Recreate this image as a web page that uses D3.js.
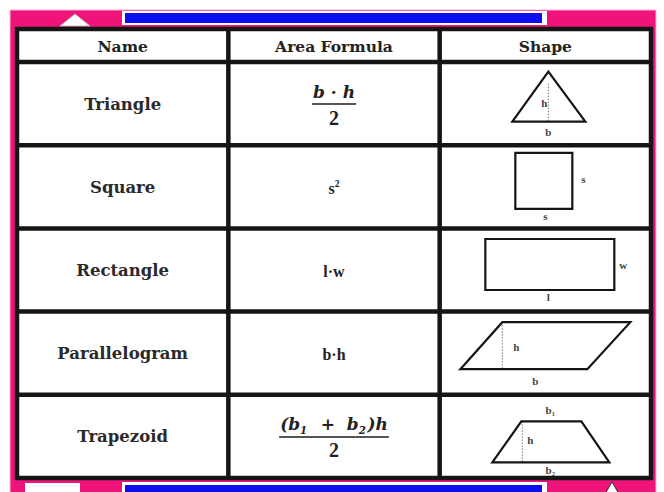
<!DOCTYPE html>
<html>
<head>
<meta charset="utf-8">
<script src="https://cdn.jsdelivr.net/npm/d3@7"></script>
<style>
  body { margin: 0; background: #fff; }
  svg { display: block; }
  text { white-space: pre; }
</style>
</head>
<body>
<div id="main"></div>
<script>
const width = 664;
const height = 492;

const headers = ["Name", "Area Formula", "Shape"];
const shapeNames = ["Triangle", "Square", "Rectangle", "Parallelogram", "Trapezoid"];
// numerator / denominator of each area formula ("_1" = subscript, "^2" = superscript)
const formulaTop = ["b · h", "s^2", "l·w", "b·h", "(b_1  +  b_2)h"];
const formulaBottom = ["2", "", "", "", "2"];
const formulaItalic = [true, false, false, false, true];

const pink = "#ef1479";
const blue = "#0b0ff0";
const ink = "#151515";

const svg = d3.select("#main").append("svg")
  .attr("width", width)
  .attr("height", height);

// frame
svg.append("rect").attr("x", 10).attr("y", 10).attr("width", 646).attr("height", 490)
  .attr("fill", pink).attr("stroke", "#f7b6d3").attr("stroke-width", 1);
svg.append("rect").attr("x", 122).attr("y", 11).attr("width", 425).attr("height", 14).attr("fill", "#fff");
svg.append("rect").attr("x", 125).attr("y", 13).attr("width", 417).attr("height", 10).attr("fill", blue);
svg.append("path").attr("d", "M60,26 L75,14 L90,26 Z").attr("fill", "#fff").attr("stroke", "#bbb");
svg.append("rect").attr("x", 122).attr("y", 482).attr("width", 425).attr("height", 12).attr("fill", "#fff");
svg.append("rect").attr("x", 125).attr("y", 485).attr("width", 417).attr("height", 10).attr("fill", blue);
svg.append("rect").attr("x", 25).attr("y", 483).attr("width", 55).attr("height", 12).attr("fill", "#fff");
svg.append("path").attr("d", "M605,494 L612,482 L619,494").attr("fill", "#fff").attr("stroke", "#333");

// table scales
const col = d3.scaleBand().domain(headers).range([17, 651]);
const row = d3.scaleBand().domain(shapeNames).range([62, 478]);
const headTop = 29;

const table = svg.append("g");
table.append("rect").attr("x", 17).attr("y", headTop).attr("width", 634).attr("height", 478 - headTop)
  .attr("fill", "#fff");

// grid lines
const hLines = [headTop, ...shapeNames.map(d => row(d)), 478];
table.selectAll(".hl").data(hLines).enter().append("line")
  .attr("x1", 15).attr("x2", 653)
  .attr("y1", d => d).attr("y2", d => d)
  .attr("stroke", ink).attr("stroke-width", 4.5);
const vLines = [...headers.map(d => col(d)), 651];
table.selectAll(".vl").data(vLines).enter().append("line")
  .attr("y1", headTop - 2).attr("y2", 480)
  .attr("x1", d => d).attr("x2", d => d)
  .attr("stroke", ink).attr("stroke-width", 4.5);

// header
table.selectAll(".head").data(headers).enter().append("text")
  .attr("x", d => col(d) + col.bandwidth() / 2)
  .attr("y", 51.5)
  .attr("text-anchor", "middle")
  .attr("font-family", "DejaVu Serif")
  .attr("font-weight", "bold")
  .attr("font-size", 15.5)
  .attr("fill", "#222")
  .text(d => d);

// names
table.selectAll(".name").data(shapeNames).enter().append("text")
  .attr("x", col("Name") + col.bandwidth() / 2)
  .attr("y", d => row(d) + row.bandwidth() / 2 + 6)
  .attr("text-anchor", "middle")
  .attr("font-family", "DejaVu Serif")
  .attr("font-weight", "bold")
  .attr("font-size", 16.5)
  .attr("fill", "#2a2a2a")
  .text(d => d);

// formulas
function richText(sel, str) {
  const parts = str.split(/([_^]\d)/).filter(s => s.length);
  parts.forEach(p => {
    if (p[0] === "_") {
      sel.append("tspan").attr("font-size", "0.6em").attr("dy", 4).text(p[1]);
      sel.append("tspan").attr("dy", -4).text("\u200a");
    } else if (p[0] === "^") {
      sel.append("tspan").attr("font-size", "0.6em").attr("dy", -7).text(p[1]);
      sel.append("tspan").attr("dy", 7).text("");
    } else {
      sel.append("tspan").text(p);
    }
  });
}

const fx = col("Area Formula") + col.bandwidth() / 2;
shapeNames.forEach((name, i) => {
  const cy = row(name) + row.bandwidth() / 2;
  const g = table.append("g").attr("fill", "#222")
    .attr("font-family", "Liberation Serif")
    .attr("font-weight", "bold")
    .attr("font-size", 19);
  if (formulaBottom[i]) {
    const top = g.append("text").attr("x", fx).attr("y", cy - 6)
      .attr("text-anchor", "middle")
      .attr("font-family", "DejaVu Serif")
      .attr("font-size", 17)
      .attr("font-style", formulaItalic[i] ? "italic" : "normal");
    richText(top, formulaTop[i]);
    const w = top.node().getComputedTextLength();
    g.append("line").attr("x1", fx - w / 2 - 1).attr("x2", fx + w / 2 + 1)
      .attr("y1", cy + 0.5).attr("y2", cy + 0.5)
      .attr("stroke", "#555").attr("stroke-width", 2);
    g.append("text").attr("x", fx).attr("y", cy + 21)
      .attr("text-anchor", "middle").attr("font-size", 20).text(formulaBottom[i]);
  } else {
    const t = g.append("text").attr("x", fx).attr("y", cy + 7)
      .attr("text-anchor", "middle").attr("font-size", 16);
    richText(t, formulaTop[i]);
  }
});

// shapes, drawn relative to the cell centre
const sx = col("Shape") + col.bandwidth() / 2;
const line = d3.line();
function label(g, x, y, t) {
  g.append("text").attr("x", x).attr("y", y).attr("text-anchor", "middle")
    .attr("font-family", "Liberation Serif").attr("font-size", 11).attr("font-weight", "bold")
    .attr("fill", "#444").text(t);
}
function poly(g, pts) {
  g.append("path").attr("d", line(pts) + "Z")
    .attr("fill", "none").attr("stroke", ink).attr("stroke-width", 2.2).attr("stroke-linejoin", "miter");
}
function dotted(g, x, y1, y2) {
  g.append("line").attr("x1", x).attr("x2", x).attr("y1", y1).attr("y2", y2)
    .attr("stroke", "#777").attr("stroke-width", 1).attr("stroke-dasharray", "1.5,1.5");
}
const drawers = {
  Triangle: g => {
    dotted(g, 3, -20, 18);
    poly(g, [[3, -32], [-33, 18], [40, 18]]);
    label(g, -1, 3, "h");
    label(g, 3, 32, "b");
  },
  Square: g => {
    poly(g, [[-30, -34], [27, -34], [27, 22], [-30, 22]]);
    label(g, 38, -4, "s");
    label(g, 0, 33, "s");
  },
  Rectangle: g => {
    poly(g, [[-60, -31], [69, -31], [69, 20], [-60, 20]]);
    label(g, 78, -1, "w");
    label(g, 3, 31, "l");
  },
  Parallelogram: g => {
    dotted(g, -43, -31, 16);
    poly(g, [[-85, 16], [-43, -31], [85, -31], [42, 16]]);
    label(g, -29, -2, "h");
    label(g, -10, 32, "b");
  },
  Trapezoid: g => {
    dotted(g, -23, -15, 26);
    poly(g, [[-24, -15], [36, -15], [64, 26], [-53, 26]]);
    label(g, -15, 8, "h");
    label(g, 5, -22, "b\u2081");
    label(g, 5, 38, "b\u2082");
  }
};
shapeNames.forEach(name => {
  const g = table.append("g")
    .attr("transform", `translate(${sx},${row(name) + row.bandwidth() / 2})`);
  drawers[name](g);
});
</script>
</body>
</html>
